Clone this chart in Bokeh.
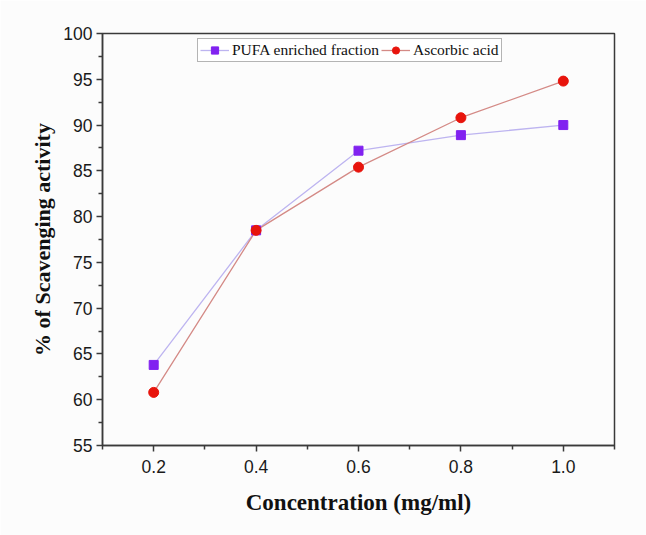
from bokeh.plotting import figure
from bokeh.models import Range1d, FixedTicker, Legend, LegendItem
from bokeh.embed import file_html
from bokeh.resources import INLINE

# Concentration (mg/ml) and % scavenging activity
concentration = [0.2, 0.4, 0.6, 0.8, 1.0]
pufa_fraction = [63.8, 78.5, 87.2, 88.9, 90.0]
ascorbic_acid = [60.8, 78.5, 85.4, 90.8, 94.8]

x_ticks = [0.2, 0.4, 0.6, 0.8, 1.0]
x_minor = [0.1, 0.3, 0.5, 0.7, 0.9, 1.1]
y_ticks = [55, 60, 65, 70, 75, 80, 85, 90, 95, 100]
y_minor = [57.5, 62.5, 67.5, 72.5, 77.5, 82.5, 87.5, 92.5, 97.5]

p = figure(width=646, height=535, output_backend="svg", toolbar_location=None,
           x_range=Range1d(0.1, 1.1), y_range=Range1d(55, 100),
           min_border_left=102, min_border_right=32, min_border_top=33,
           min_border_bottom=90)

p.background_fill_color = "#fcfcfc"
p.border_fill_color = "#fcfcfc"
p.outline_line_color = "#3a3a3a"
p.outline_line_width = 1.5
p.xgrid.visible = False
p.ygrid.visible = False

for ax in (p.xaxis[0], p.yaxis[0]):
    ax.axis_line_color = "#3a3a3a"
    ax.axis_line_width = 1.5
    ax.major_tick_line_color = "#3a3a3a"
    ax.minor_tick_line_color = "#3a3a3a"
    ax.major_tick_line_width = 1.5
    ax.minor_tick_line_width = 1.5
    ax.major_tick_out = 6
    ax.major_tick_in = 0
    ax.minor_tick_out = 4
    ax.minor_tick_in = 0
    ax.major_label_text_font = "Liberation Sans"
    ax.major_label_text_font_size = "17.5px"
    ax.major_label_text_color = "#1a1a1a"
    ax.axis_label_text_font = "Liberation Serif"
    ax.axis_label_text_font_style = "bold"
    ax.axis_label_text_color = "#111111"

p.xaxis.ticker = FixedTicker(ticks=x_ticks, minor_ticks=x_minor)
p.yaxis.ticker = FixedTicker(ticks=y_ticks, minor_ticks=y_minor)
p.xaxis.major_label_overrides = {v: f"{v:.1f}" for v in x_ticks}
p.xaxis.major_label_standoff = 8
p.yaxis.major_label_standoff = 4
p.xaxis.axis_label = "Concentration (mg/ml)"
p.yaxis.axis_label = "% of Scavenging activity"
p.xaxis.axis_label_text_font_size = "23px"
p.yaxis.axis_label_text_font_size = "22px"
p.xaxis.axis_label_standoff = 14
p.yaxis.axis_label_standoff = 5

pufa_line = p.line(concentration, pufa_fraction, line_color="#bdb4f0", line_width=1.3)
asc_line = p.line(concentration, ascorbic_acid, line_color="#d48a86", line_width=1.3)
pufa_pts = p.scatter(concentration, pufa_fraction, marker="square", size=9,
                     fill_color="#8122f0", line_color="#8122f0")
asc_pts = p.scatter(concentration, ascorbic_acid, marker="circle", size=10,
                    fill_color="#e8140c", line_color="#e8140c")

legend = Legend(items=[
    LegendItem(label="PUFA enriched fraction", renderers=[pufa_line, pufa_pts]),
    LegendItem(label="Ascorbic acid", renderers=[asc_line, asc_pts]),
], orientation="horizontal", location=(95, 383))
legend.label_text_font = "Liberation Serif"
legend.label_text_font_size = "15.5px"
legend.label_text_color = "#111111"
legend.border_line_color = "#6a6a6a"
legend.border_line_width = 1
legend.background_fill_color = "#ffffff"
legend.background_fill_alpha = 1
legend.padding = 2
legend.spacing = 2
legend.margin = 0
legend.glyph_width = 29
legend.glyph_height = 18
legend.label_standoff = 3
legend.label_height = 18
p.add_layout(legend, "center")

open("out.html", "w").write(file_html(p, INLINE))
